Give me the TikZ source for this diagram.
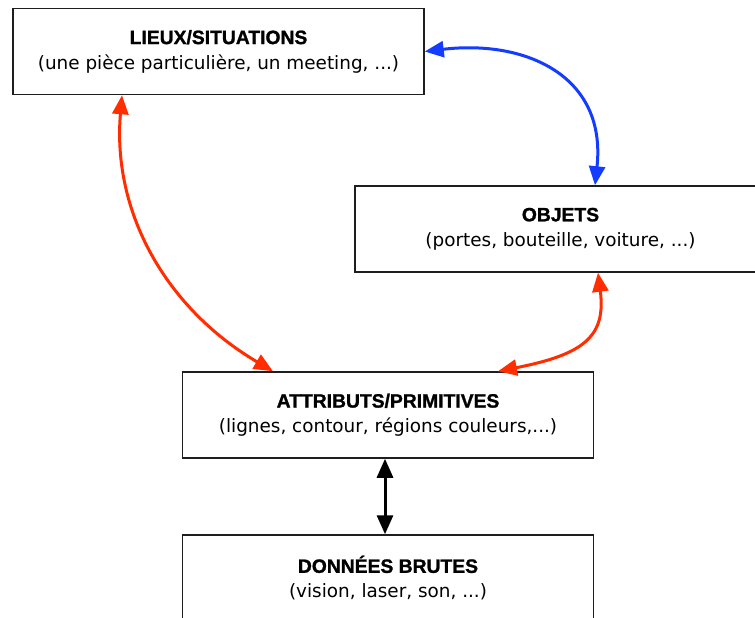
\documentclass[tikz,border=0pt]{standalone}
\usepackage{fontspec}
\setmainfont{DejaVu Sans}
\newfontfamily\headfont{Liberation Sans}[BoldFeatures={FakeBold=1.2}]
\usetikzlibrary{arrows.meta}
\definecolor{linkred}{RGB}{255,45,0}
\definecolor{linkblue}{RGB}{20,60,255}
\definecolor{frame}{RGB}{30,30,30}
\newcommand{\boxtitle}[1]{{\headfont\bfseries\fontsize{19.3}{25}\selectfont #1}}
\tikzset{
  levelbox/.style={draw=frame, line width=1.5pt, fill=white,
    minimum width=411pt, minimum height=86pt, inner sep=0pt,
    align=center, font=\fontsize{18.4}{25}\selectfont},
  link/.style={line width=3pt, {Triangle[length=19pt,width=16pt]}-{Triangle[length=19pt,width=16pt]}},
}
\begin{document}
\begin{tikzpicture}[x=1pt, y=-1pt]
  \clip (0,0) rectangle (755,618);
  \fill[white] (0,0) rectangle (755,618);

  % the four levels of the hierarchy
  \node[levelbox] (lieux) at (218.5,51.5)
    {\boxtitle{LIEUX/SITUATIONS}\\(une pièce particulière, un meeting, ...)};
  \node[levelbox] (objets) at (560.5,229)
    {\boxtitle{OBJETS}\\(portes, bouteille, voiture, ...)};
  \node[levelbox] (attributs) at (388,415)
    {\boxtitle{ATTRIBUTS/PRIMITIVES}\\(lignes, contour, régions couleurs,...)};
  \node[levelbox] (donnees) at (388,578)
    {\boxtitle{DONNÉES BRUTES}\\(vision, laser, son, ...)};

  % links between levels
  \draw[link, linkblue] (lieux.east)
    .. controls +(100,-12) and +(12,-110) .. ([xshift=34.5pt]objets.north);
  \draw[link, linkred] ([xshift=-96.5pt]lieux.south)
    .. controls +(-10,117) and +(-107,-63) .. ([xshift=-115pt]attributs.north);
  \draw[link, linkred] ([xshift=37.5pt]objets.south)
    .. controls +(8,63) and +(87,-17) .. ([xshift=110pt]attributs.north);
  \draw[link, black] ([xshift=-3pt]attributs.south) -- ([xshift=-3pt]donnees.north);
\end{tikzpicture}
\end{document}
